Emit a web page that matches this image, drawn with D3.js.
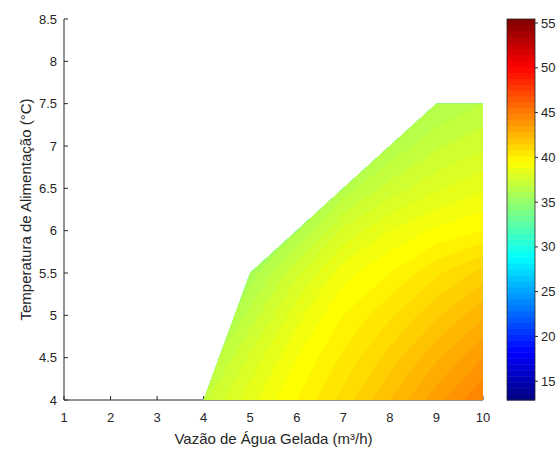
<!DOCTYPE html>
<html>
<head>
<meta charset="utf-8">
<script src="https://cdn.jsdelivr.net/npm/d3@7"></script>
<style>
  body { margin: 0; background: #fff; }
  svg { display: block; font-family: "Liberation Sans", Arial, sans-serif; }
</style>
</head>
<body>
<div id="chart"></div>
<script>
const width = 560;
const height = 449;

// grid: columns = flow (m3/h), rows = feed temperature (°C)
const flowValues = [4, 5, 6, 7, 8, 9, 10];
const tempValues = [4, 4.5, 5, 5.5, 6, 6.5, 7, 7.5];
const gridValues = [
  [37.4, 38.8, 40.0, 41.2, 42.5, 43.8, 45.0],
  [36.5, 38.1, 39.5, 40.6, 41.7, 42.9, 44.0],
  [35.3, 37.2, 38.8, 40.0, 40.9, 41.9, 42.9],
  [34.1, 36.2, 37.9, 39.3, 40.0, 40.9, 41.7],
  [33.0, 34.8, 36.4, 38.1, 39.0, 39.6, 40.0],
  [32.0, 33.7, 35.3, 36.7, 37.7, 38.4, 38.9],
  [31.0, 32.7, 34.1, 35.5, 36.6, 37.4, 37.9],
  [30.0, 31.7, 33.1, 34.5, 35.7, 36.5, 37.0]
];
// edge of the region that holds data
const edgeFlow = [4, 5, 6, 7, 8, 9, 10, 10];
const edgeTemp = [4, 5.5, 6, 6.5, 7, 7.5, 7.5, 4];

const xTicks = [1, 2, 3, 4, 5, 6, 7, 8, 9, 10];
const yTicks = [4, 4.5, 5, 5.5, 6, 6.5, 7, 7.5, 8, 8.5];
const cTicks = [15, 20, 25, 30, 35, 40, 45, 50, 55];
const cLimits = [12.9, 55.45];
const levelStep = 0.5;

const axisColor = '#262626';

function jet(t) {
  const c = v => Math.max(0, Math.min(1, v));
  const r = c(Math.min(4 * t - 1.5, -4 * t + 4.5));
  const g = c(Math.min(4 * t - 0.5, -4 * t + 3.5));
  const b = c(Math.min(4 * t + 0.5, -4 * t + 2.5));
  return d3.rgb(r * 255, g * 255, b * 255).toString();
}

const x = d3.scaleLinear().domain([1, 10]).range([64, 483]);
const y = d3.scaleLinear().domain([4, 8.5]).range([400, 19]);
const cNorm = d3.scaleLinear().domain(cLimits).range([0, 1]).clamp(true);
const cY = d3.scaleLinear().domain(cLimits).range([400, 19]);

const svg = d3.select('#chart').append('svg')
  .attr('width', width)
  .attr('height', height);

// axes (drawn first, the filled contours cover them)
const gx = svg.append('g').attr('transform', 'translate(0,400)');
gx.append('line').attr('x1', x(1)).attr('x2', x(10)).attr('stroke', axisColor);
gx.selectAll('line.tick').data(xTicks).enter().append('line')
  .attr('class', 'tick')
  .attr('x1', d => x(d)).attr('x2', d => x(d))
  .attr('y1', 0).attr('y2', -4)
  .attr('stroke', axisColor);
gx.selectAll('text').data(xTicks).enter().append('text')
  .attr('x', d => x(d)).attr('y', 22)
  .attr('text-anchor', 'middle')
  .attr('font-size', 13)
  .attr('fill', axisColor)
  .text(d => d);

const gy = svg.append('g').attr('transform', 'translate(64,0)');
gy.append('line').attr('y1', y(4)).attr('y2', y(8.5)).attr('stroke', axisColor);
gy.selectAll('line.tick').data(yTicks).enter().append('line')
  .attr('class', 'tick')
  .attr('y1', d => y(d)).attr('y2', d => y(d))
  .attr('x1', 0).attr('x2', 4)
  .attr('stroke', axisColor);
gy.selectAll('text').data(yTicks).enter().append('text')
  .attr('x', -7).attr('y', d => y(d))
  .attr('dy', '0.35em')
  .attr('text-anchor', 'end')
  .attr('font-size', 13)
  .attr('fill', axisColor)
  .text(d => d);

svg.append('text')
  .attr('x', (x(1) + x(10)) / 2).attr('y', 444)
  .attr('text-anchor', 'middle')
  .attr('font-size', 15)
  .attr('fill', axisColor)
  .text('Vazão de Água Gelada (m³/h)');

svg.append('text')
  .attr('transform', 'translate(31,' + (y(4) + y(8.5)) / 2 + ') rotate(-90)')
  .attr('text-anchor', 'middle')
  .attr('font-size', 15)
  .attr('fill', axisColor)
  .text('Temperatura de Alimentação (°C)');

// filled contours
const nx = flowValues.length, ny = tempValues.length;
const flat = [].concat(...gridValues);
const levels = d3.range(29, 46, levelStep);
const dFlow = flowValues[1] - flowValues[0];
const dTemp = tempValues[1] - tempValues[0];

const toScreen = d3.geoTransform({
  point: function(px, py) {
    this.stream.point(
      x(flowValues[0] + (px - 0.5) * dFlow),
      y(tempValues[0] + (py - 0.5) * dTemp));
  }
});
const path = d3.geoPath(toScreen);

svg.append('clipPath').attr('id', 'region')
  .append('path')
  .attr('d', d3.line()(edgeFlow.map((f, i) => [x(f), y(edgeTemp[i])])) + 'Z');

const contours = d3.contours().size([nx, ny]).thresholds(levels)(flat);

svg.append('g')
  .attr('clip-path', 'url(#region)')
  .selectAll('path')
  .data(contours)
  .enter().append('path')
  .attr('d', path)
  .attr('fill', d => jet(cNorm(d.value)))
  .attr('stroke', d => jet(cNorm(d.value)))
  .attr('stroke-width', 0.3);

// colorbar
const nColors = 64;
const cbar = svg.append('g');
const steps = d3.range(nColors);
const stepSize = (cLimits[1] - cLimits[0]) / nColors;
cbar.selectAll('rect').data(steps).enter().append('rect')
  .attr('x', 507)
  .attr('width', 28)
  .attr('y', i => cY(cLimits[0] + (i + 1) * stepSize))
  .attr('height', i => cY(cLimits[0] + i * stepSize) - cY(cLimits[0] + (i + 1) * stepSize) + 0.5)
  .attr('fill', i => jet((i + 0.5) / nColors));
cbar.append('rect')
  .attr('x', 507).attr('y', 19)
  .attr('width', 28).attr('height', 381)
  .attr('fill', 'none')
  .attr('stroke', axisColor)
  .attr('stroke-width', 0.8);
cbar.selectAll('line.tick').data(cTicks).enter().append('line')
  .attr('class', 'tick')
  .attr('x1', 535).attr('x2', 538)
  .attr('y1', d => cY(d)).attr('y2', d => cY(d))
  .attr('stroke', axisColor);
cbar.selectAll('text').data(cTicks).enter().append('text')
  .attr('x', 541).attr('y', d => cY(d))
  .attr('dy', '0.35em')
  .attr('font-size', 13)
  .attr('fill', axisColor)
  .text(d => d);
</script>
</body>
</html>
